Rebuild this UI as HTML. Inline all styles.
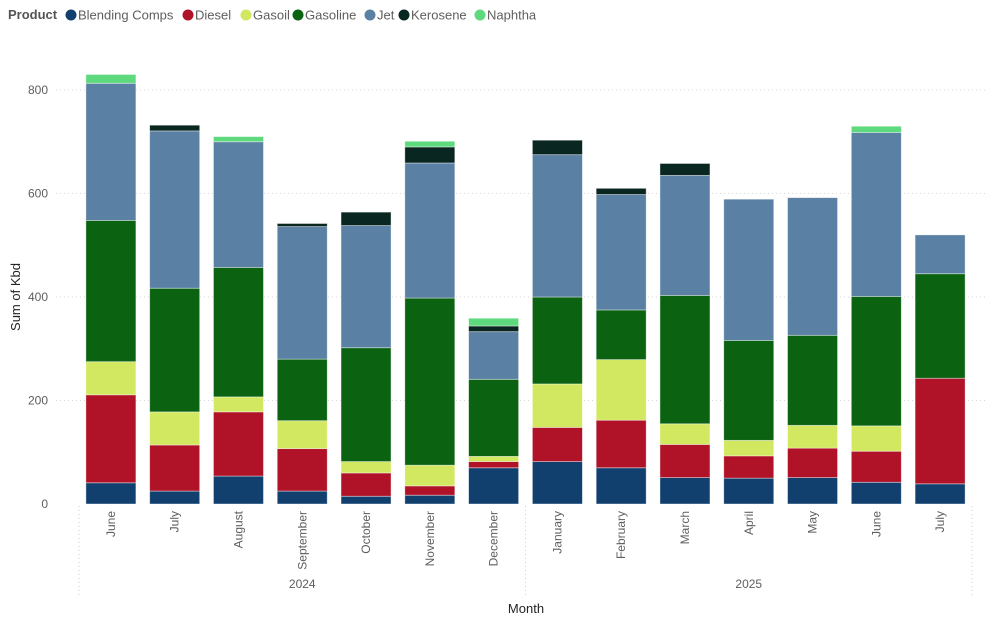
<!DOCTYPE html>
<html><head><meta charset="utf-8"><style>
body{margin:0;background:#fff;font-family:"Liberation Sans","DejaVu Sans",sans-serif;}
svg text{font-family:"Liberation Sans","DejaVu Sans",sans-serif;}
</style></head><body>
<svg id="c" width="992" height="618"></svg>
<script>
const months=["June","July","August","September","October","November","December","January","February","March","April","May","June","July"];
const years=["2024","2025"];
const products=["Blending Comps","Diesel","Gasoil","Gasoline","Jet","Kerosene","Naphtha"];
const colors=["#12406e","#b01228","#d2e860","#0b6312","#5a80a3","#0a2620","#5ed97e"];
const blending=[41,25,54,25,15,17,70,82,70,51,50,51,42,39];
const diesel=[170,89,124,82,45,18,12,66,92,64,43,57,60,204];
const gasoil=[64,64,29,54,22,40,10,84,117,40,30,44,49,0];
const gasoline=[273,239,250,119,220,323,149,168,96,248,193,174,250,202];
const jet=[265,304,243,256,236,261,92,275,223,232,273,266,317,75];
const kerosene=[0,11,0,6,26,31,11,28,12,23,0,0,0,0];
const naphtha=[17,0,10,0,0,11,15,0,0,0,0,0,12,0];
const yTicks=[0,200,400,600,800];
const series=[blending,diesel,gasoil,gasoline,jet,kerosene,naphtha];
const NS="http://www.w3.org/2000/svg";
const svg=document.getElementById('c');
function mk(t,a,p){const e=document.createElementNS(NS,t);for(const k in a)e.setAttribute(k,a[k]);(p||svg).appendChild(e);return e;}
const x0=79,x1=972,y0=504,scale=(504-90)/800;
const slot=(x1-x0)/months.length,bw=50;
const y=v=>y0-v*scale;
const xc=i=>x0+slot*(i+0.5);
// legend
let t=mk('text',{x:8,y:19,'font-size':13,'font-weight':'bold',fill:'#555'});t.textContent="Product";


const lpos=[71,188,246,298,370,404,480];
products.forEach((p,i)=>{
 const lx=lpos[i];
 const g=mk('g',{});
 
 
 mk('circle',{cx:lx,cy:15,r:5.5,fill:colors[i]},g);
 const tt=mk('text',{x:lx+7,y:19.5,'font-size':13,fill:'#605e5c'},g);tt.textContent=p;
});
// grid & y ticks
yTicks.forEach(v=>{
 if(v>0){const l=mk('line',{x1:56,x2:985,y1:y(v),y2:y(v),stroke:'#d6d6d6','stroke-dasharray':'1,3'});
 
 }
 const tx=mk('text',{x:48,y:y(v)+4,'text-anchor':'end','font-size':12,fill:'#605e5c'});tx.textContent=v;
 
 
});
const yt=mk('text',{transform:'translate(20,297) rotate(-90)','text-anchor':'middle','font-size':13,fill:'#252423'});yt.textContent="Sum of Kbd";


// bars
months.forEach((m,i)=>{
 let cum=0;
 series.forEach((s,k)=>{
  const v=s[i]; if(v<=0)return;
  const r=mk('rect',{x:xc(i)-bw/2,y:y(cum+v),width:bw,height:v*scale,fill:colors[k],stroke:'#fff','stroke-opacity':0.5,'stroke-width':0.8});
  
  
  cum+=v;
 });
 const lt=mk('text',{transform:`translate(${xc(i)+4},511) rotate(-90)`,'text-anchor':'end','font-size':12,fill:'#605e5c'});lt.textContent=m;
 
 
});
// separators & years
[x0,x0+slot*7,x1].forEach(xx=>{
 const l=mk('line',{x1:xx,x2:xx,y1:506,y2:597,stroke:'#cfcfcf','stroke-dasharray':'1,3'});
 
 
});
years.forEach((yr,j)=>{
 const tx=mk('text',{x:x0+slot*(3.5+7*j),y:588,'text-anchor':'middle','font-size':12,fill:'#605e5c'});tx.textContent=yr;
 
 
});
const xt=mk('text',{x:526,y:613,'text-anchor':'middle','font-size':13,fill:'#252423'});xt.textContent="Month";


</script>
</body></html>
